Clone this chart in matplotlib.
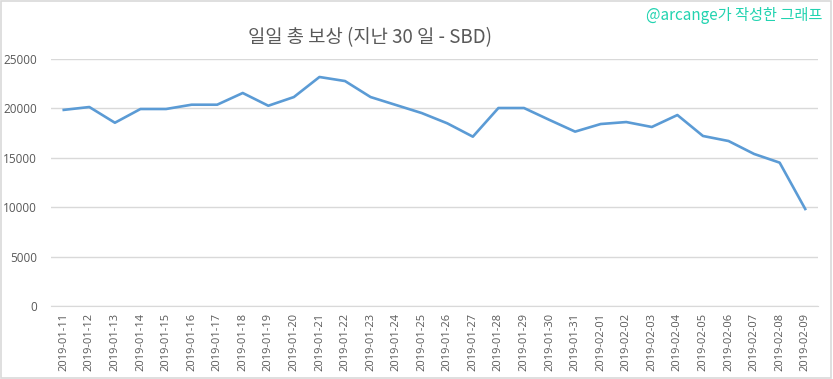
import matplotlib
matplotlib.use('Agg')
import matplotlib.pyplot as plt
from matplotlib.patches import Rectangle

plt.rcParams['font.family'] = ['Noto Sans CJK KR', 'DejaVu Sans']

# ── Data ──────────────────────────────────────────────────────────────
dates = (['2019-01-%02d' % d for d in range(11, 32)] +
         ['2019-02-%02d' % d for d in range(1, 10)])
rewards = [19850, 20140, 18550, 19940, 19940, 20375, 20375, 21560, 20270,
           21150, 23180, 22770, 21150, 20340, 19530, 18490, 17140, 20040,
           20040, 18830, 17650, 18420, 18620, 18120, 19330, 17210, 16700,
           15390, 14510, 9820]
yticks = [0, 5000, 10000, 15000, 20000, 25000]

title = '일일 총 보상 (지난 30 일 - SBD)'
credit = '@arcange가 작성한 그래프'

text_col = '#595959'
grid_col = '#d9d9d9'
line_col = '#5b9bd5'

# ── Figure ────────────────────────────────────────────────────────────
fig = plt.figure(figsize=(8.33, 3.79), dpi=100)
ax = fig.add_axes([0.0612, 0.1926, 0.9208, 0.6517])

x = list(range(len(dates)))
ax.plot(x, rewards, color=line_col, linewidth=1.9, solid_joinstyle='round')

ax.set_xlim(-0.5, len(dates) - 0.5)
ax.set_ylim(0, 25000)
ax.set_yticks(yticks)
ax.set_yticklabels([str(v) for v in yticks], fontsize=8.5, color=text_col,
                   family=['Open Sans', 'DejaVu Sans'])
ax.set_xticks(x)
ax.set_xticklabels(dates, rotation=90, fontsize=8, color=text_col,
                   family=['Open Sans', 'DejaVu Sans'])
ax.tick_params(axis='both', length=0, pad=5)
ax.tick_params(axis='y', pad=10)

ax.grid(True, axis='y', color=grid_col, linewidth=1)
ax.set_axisbelow(True)
for side in ['top', 'right', 'left']:
    ax.spines[side].set_visible(False)
ax.spines['bottom'].set_color(grid_col)

fig.text(0.444, 0.902, title, ha='center', va='center',
         fontsize=13.5, color=text_col)
fig.text(0.987, 0.958, credit, ha='right', va='center',
         fontsize=11, color='#22d3b0')

# chart outline
fig.patches.append(Rectangle((0.001, 0.002), 0.997, 0.995,
                             transform=fig.transFigure, fill=False,
                             edgecolor=grid_col, linewidth=1.2))

fig.savefig('out.png', dpi=100)
